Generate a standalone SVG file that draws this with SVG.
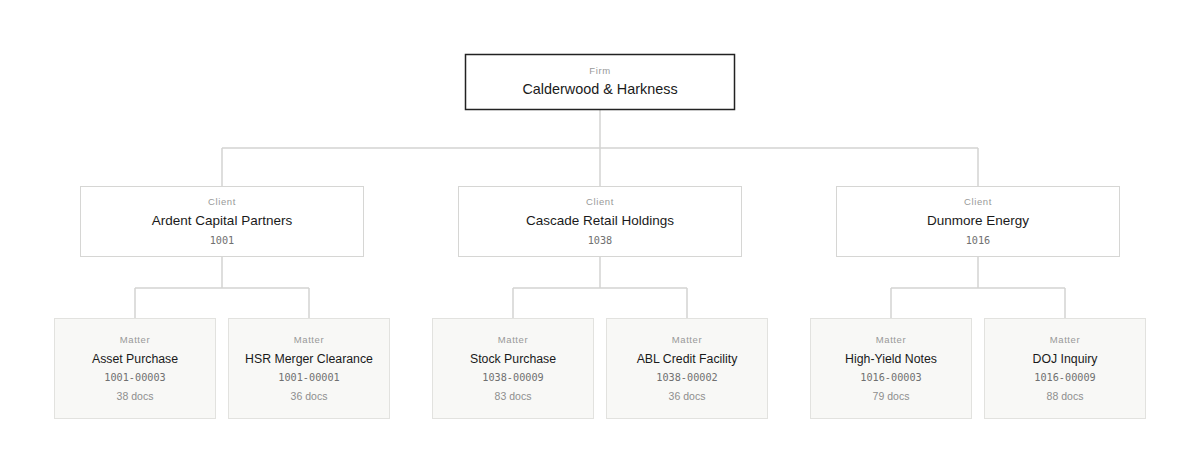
<svg xmlns="http://www.w3.org/2000/svg" width="1200" height="474" viewBox="0 0 1200 474">
<style>
.bg{fill:#ffffff}
.firm{fill:#ffffff;stroke:#222222;stroke-width:1.5}
.client{fill:#ffffff;stroke:#d6d6d4;stroke-width:1}
.matter{fill:#f8f8f6;stroke:#e2e2df;stroke-width:1}
.conn{fill:none;stroke:#d4d4d2;stroke-width:1.5}
.lbl{font-family:"Liberation Sans",Arial,sans-serif;font-size:9.5px;fill:#999999;letter-spacing:0.6px;text-anchor:middle}
.name{font-family:"Liberation Sans",Arial,sans-serif;fill:#1a1a1a;text-anchor:middle}
.code{font-family:"DejaVu Sans Mono","Liberation Mono",monospace;font-size:10.2px;fill:#707070;text-anchor:middle}
.docs{font-family:"Liberation Sans",Arial,sans-serif;font-size:10.5px;fill:#8e8e8e;text-anchor:middle}
</style>
<rect class="bg" x="0" y="0" width="1200" height="474"/>
<g id="connectors">
<path class="conn" d="M600 110 V148 M222 148 H978 M222 148 V186 M600 148 V186 M978 148 V186"/>
<path class="conn" d="M222 257 V288 M135 288 H309 M135 288 V318 M309 288 V318"/>
<path class="conn" d="M600 257 V288 M513 288 H687 M513 288 V318 M687 288 V318"/>
<path class="conn" d="M978 257 V288 M891 288 H1065 M891 288 V318 M1065 288 V318"/>
</g>
<g id="firm">
<rect class="firm" x="465.5" y="54.5" width="269" height="55"/>
<text class="lbl" x="600" y="73.5">Firm</text>
<text class="name" x="600" y="94" font-size="14.4">Calderwood &amp; Harkness</text>
</g>
<g id="client-1001">
<rect class="client" x="80.5" y="186.5" width="283" height="70"/>
<text class="lbl" x="222" y="204.5">Client</text>
<text class="name" x="222" y="225" font-size="13.5">Ardent Capital Partners</text>
<text class="code" x="222" y="244">1001</text>
</g>
<g id="client-1038">
<rect class="client" x="458.5" y="186.5" width="283" height="70"/>
<text class="lbl" x="600" y="204.5">Client</text>
<text class="name" x="600" y="225" font-size="13.5">Cascade Retail Holdings</text>
<text class="code" x="600" y="244">1038</text>
</g>
<g id="client-1016">
<rect class="client" x="836.5" y="186.5" width="283" height="70"/>
<text class="lbl" x="978" y="204.5">Client</text>
<text class="name" x="978" y="225" font-size="13.5">Dunmore Energy</text>
<text class="code" x="978" y="244">1016</text>
</g>
<g id="matter-1001-00003">
<rect class="matter" x="54.5" y="318.5" width="161" height="100"/>
<text class="lbl" x="135" y="342.5">Matter</text>
<text class="name" x="135" y="363" font-size="12.3">Asset Purchase</text>
<text class="code" x="135" y="381">1001-00003</text>
<text class="docs" x="135" y="399.5">38 docs</text>
</g>
<g id="matter-1001-00001">
<rect class="matter" x="228.5" y="318.5" width="161" height="100"/>
<text class="lbl" x="309" y="342.5">Matter</text>
<text class="name" x="309" y="363" font-size="12.3">HSR Merger Clearance</text>
<text class="code" x="309" y="381">1001-00001</text>
<text class="docs" x="309" y="399.5">36 docs</text>
</g>
<g id="matter-1038-00009">
<rect class="matter" x="432.5" y="318.5" width="161" height="100"/>
<text class="lbl" x="513" y="342.5">Matter</text>
<text class="name" x="513" y="363" font-size="12.3">Stock Purchase</text>
<text class="code" x="513" y="381">1038-00009</text>
<text class="docs" x="513" y="399.5">83 docs</text>
</g>
<g id="matter-1038-00002">
<rect class="matter" x="606.5" y="318.5" width="161" height="100"/>
<text class="lbl" x="687" y="342.5">Matter</text>
<text class="name" x="687" y="363" font-size="12.3">ABL Credit Facility</text>
<text class="code" x="687" y="381">1038-00002</text>
<text class="docs" x="687" y="399.5">36 docs</text>
</g>
<g id="matter-1016-00003">
<rect class="matter" x="810.5" y="318.5" width="161" height="100"/>
<text class="lbl" x="891" y="342.5">Matter</text>
<text class="name" x="891" y="363" font-size="12.3">High-Yield Notes</text>
<text class="code" x="891" y="381">1016-00003</text>
<text class="docs" x="891" y="399.5">79 docs</text>
</g>
<g id="matter-1016-00009">
<rect class="matter" x="984.5" y="318.5" width="161" height="100"/>
<text class="lbl" x="1065" y="342.5">Matter</text>
<text class="name" x="1065" y="363" font-size="12.3">DOJ Inquiry</text>
<text class="code" x="1065" y="381">1016-00009</text>
<text class="docs" x="1065" y="399.5">88 docs</text>
</g>
</svg>
